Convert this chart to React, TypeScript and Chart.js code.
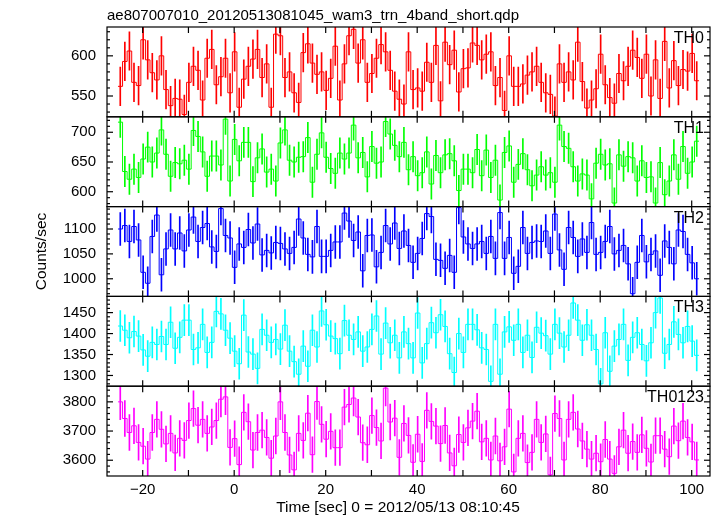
import React, { useEffect, useRef } from 'react';
import { Chart, registerables } from 'chart.js';
Chart.register(...registerables);

// ---- data (1 s bins) ----
const binStart = -25.4;
const binWidth = 1;

const th0 = [
  562, 593, 606, 567, 563, 620, 595, 579, 570, 600,
  558, 538, 547, 546, 527, 567, 587, 582, 545, 597,
  608, 564, 574, 597, 554, 605, 536, 571, 587, 596,
  608, 573, 590, 536, 627, 625, 573, 580, 554, 542,
  604, 615, 591, 577, 580, 557, 572, 612, 545, 590,
  625, 633, 591, 620, 567, 578, 597, 614, 605, 582,
  556, 546, 540, 605, 558, 560, 556, 592, 567, 613,
  544, 617, 589, 607, 555, 584, 585, 616, 613, 595,
  602, 605, 563, 573, 532, 600, 562, 562, 565, 576,
  580, 587, 567, 554, 552, 525, 590, 567, 580, 570,
  617, 568, 535, 545, 559, 602, 564, 548, 541, 578,
  569, 587, 607, 598, 572, 602, 550, 595, 547, 618,
  560, 594, 563, 583, 581, 603, 569,
];
const th1 = [
  717, 634, 621, 638, 624, 655, 675, 650, 665, 704,
  663, 626, 649, 647, 653, 638, 703, 693, 667, 626,
  660, 660, 645, 722, 618, 688, 652, 683, 683, 617,
  657, 672, 633, 638, 618, 682, 704, 653, 650, 658,
  659, 691, 616, 663, 699, 658, 639, 631, 665, 655,
  665, 712, 657, 666, 625, 676, 648, 650, 718, 697,
  678, 659, 683, 637, 659, 627, 632, 667, 613, 661,
  632, 662, 664, 652, 602, 638, 638, 632, 671, 627,
  670, 624, 653, 586, 666, 677, 616, 646, 664, 637,
  610, 628, 642, 628, 632, 616, 712, 676, 673, 642,
  618, 630, 628, 588, 648, 663, 645, 647, 581, 662,
  643, 659, 657, 618, 652, 624, 625, 581, 649, 595,
  618, 662, 621, 676, 631, 650, 685,
];
const th2 = [
  1100, 1107, 1075, 1105, 1078, 1013, 991, 1085, 1128, 1008,
  1060, 1098, 1060, 1092, 1056, 1098, 1124, 1075, 1103, 1111,
  1064, 1055, 1141, 1087, 1082, 1023, 1070, 1063, 1099, 1072,
  1110, 1048, 1057, 1052, 1073, 1071, 1060, 1051, 1063, 1120,
  1082, 1049, 1044, 1105, 1045, 1045, 1057, 1074, 1074, 1132,
  1116, 1077, 1094, 1016, 1087, 1088, 1024, 1053, 1107, 1070,
  1112, 1061, 1096, 1067, 1033, 1051, 1081, 1131, 1125, 1039,
  1037, 1021, 1047, 1013, 1143, 1084, 1070, 1061, 1070, 1075,
  1051, 1085, 1041, 1133, 1041, 1083, 1011, 1025, 1103, 1051,
  1073, 1076, 1075, 1096, 1051, 1130, 1058, 1019, 1103, 1083,
  1045, 1080, 1053, 1113, 1049, 1053, 1075, 1105, 1050, 1057,
  1067, 1030, 970, 1033, 1087, 1034, 1049, 1056, 1007, 1076,
  1063, 1030, 1098, 1095, 1049, 1032, 1000,
];
const th3 = [
  1418, 1408, 1390, 1405, 1394, 1361, 1346, 1379, 1374, 1393,
  1374, 1427, 1365, 1391, 1432, 1432, 1362, 1366, 1422, 1355,
  1379, 1453, 1447, 1408, 1389, 1358, 1328, 1444, 1356, 1351,
  1317, 1410, 1396, 1379, 1386, 1363, 1420, 1358, 1333, 1303,
  1370, 1322, 1408, 1368, 1454, 1421, 1394, 1388, 1352, 1431,
  1396, 1386, 1404, 1358, 1368, 1410, 1442, 1351, 1425, 1378,
  1396, 1342, 1404, 1376, 1342, 1449, 1330, 1376, 1426, 1402,
  1445, 1417, 1352, 1307, 1400, 1355, 1422, 1422, 1409, 1366,
  1362, 1286, 1422, 1303, 1404, 1416, 1384, 1422, 1355, 1396,
  1343, 1415, 1401, 1395, 1351, 1422, 1401, 1368, 1396, 1473,
  1432, 1384, 1421, 1396, 1362, 1280, 1402, 1310, 1370, 1386,
  1422, 1336, 1391, 1402, 1374, 1335, 1378, 1450, 1485, 1353,
  1374, 1428, 1398, 1378, 1417, 1382, 1348,
];
const th0123 = [
  3800, 3743, 3695, 3718, 3661, 3648, 3604, 3695, 3740, 3706,
  3656, 3692, 3625, 3675, 3668, 3736, 3777, 3720, 3740, 3692,
  3714, 3736, 3809, 3817, 3644, 3674, 3585, 3764, 3732, 3635,
  3695, 3703, 3678, 3607, 3683, 3800, 3695, 3618, 3567, 3692,
  3668, 3761, 3619, 3801, 3723, 3672, 3699, 3643, 3643, 3782,
  3791, 3813, 3748, 3660, 3653, 3753, 3712, 3666, 3847, 3731,
  3744, 3610, 3726, 3685, 3593, 3689, 3596, 3771, 3733, 3717,
  3657, 3719, 3625, 3581, 3688, 3661, 3711, 3734, 3768, 3663,
  3675, 3601, 3683, 3598, 3646, 3775, 3560, 3675, 3692, 3592,
  3627, 3740, 3661, 3690, 3550, 3760, 3743, 3601, 3740, 3764,
  3707, 3666, 3638, 3604, 3624, 3595, 3671, 3604, 3555, 3646,
  3703, 3624, 3664, 3627, 3687, 3641, 3594, 3684, 3684, 3638,
  3612, 3717, 3667, 3734, 3678, 3663, 3601,
];

// 1-sigma errors per band
const th0Err = 24;
const th1Err = 25.5;
const th2Err = 33;
const th3Err = 37;
const th0123Err = 61;

const panelNames = ['TH0', 'TH1', 'TH2', 'TH3', 'TH0123'];
const panelValues = [th0, th1, th2, th3, th0123];
const panelErrors = [th0Err, th1Err, th2Err, th3Err, th0123Err];
const panelColors = ['#ff0000', '#00ff00', '#0000ff', '#00ffff', '#ff00ff'];
const yMins = [524.1, 575, 964.6, 1274.4, 3546];
const yMaxs = [635.9, 726, 1145, 1488.7, 3853.6];
const yLabelSteps = [50, 50, 50, 50, 100];
const yMinorSteps = [10, 10, 10, 10, 20];

const xMin = -27.8;
const xMax = 104.0;
const xTickLabels = [-20, 0, 20, 40, 60, 80, 100];
const xMarkStep = 10;

const titleText = 'ae807007010_20120513081045_wam3_trn_4band_short.qdp';
const xTitle = 'Time [sec] 0 = 2012/05/13 08:10:45';
const yTitle = 'Counts/sec';

const FONT = '"Liberation Sans", Arial, Helvetica, sans-serif';

const isMultiple = (v: number, step: number) =>
  Math.abs(v / step - Math.round(v / step)) < 1e-6;

const framePlugin = {
  id: 'qdpFrames',
  afterDraw(chart: any) {
    const ctx = chart.ctx as CanvasRenderingContext2D;
    const area = chart.chartArea;
    const xs = chart.scales.x;
    ctx.save();
    ctx.strokeStyle = '#000';
    ctx.lineWidth = 1.2;
    const seg = (x1: number, y1: number, x2: number, y2: number) => {
      ctx.beginPath();
      ctx.moveTo(x1, y1);
      ctx.lineTo(x2, y2);
      ctx.stroke();
    };
    panelNames.forEach((name, k) => {
      const ys = chart.scales['y' + k];
      const top = ys.top;
      const bottom = ys.bottom;
      ctx.strokeRect(area.left, top, area.right - area.left, bottom - top);
      const minor = yMinorSteps[k];
      for (let v = Math.ceil(ys.min / minor) * minor; v <= ys.max + 1e-9; v += minor) {
        const p = ys.getPixelForValue(v);
        const len = isMultiple(v, yLabelSteps[k]) ? 6 : 3;
        seg(area.left, p, area.left + len, p);
        seg(area.right, p, area.right - len, p);
      }
      for (let v = Math.ceil(xs.min / xMarkStep) * xMarkStep; v <= xs.max + 1e-9; v += xMarkStep) {
        const p = xs.getPixelForValue(v);
        seg(p, top, p, top + 6);
        seg(p, bottom, p, bottom - 6);
      }
      ctx.fillStyle = '#000';
      ctx.font = `16px ${FONT}`;
      ctx.textAlign = 'right';
      ctx.textBaseline = 'alphabetic';
      ctx.fillText(name, area.right - 6, top + 16);
    });
    ctx.fillStyle = '#000';
    ctx.font = `15px ${FONT}`;
    ctx.textAlign = 'left';
    ctx.textBaseline = 'alphabetic';
    ctx.fillText(titleText, area.left, 20);
    ctx.font = `15.5px ${FONT}`;
    ctx.textAlign = 'center';
    ctx.fillText(xTitle, 398, 512);
    ctx.save();
    ctx.translate(46, (area.top + area.bottom) / 2);
    ctx.rotate(-Math.PI / 2);
    ctx.textAlign = 'center';
    ctx.fillText(yTitle, 0, 0);
    ctx.restore();
    ctx.restore();
  },
};

export default function App() {
  const canvasRef = useRef<HTMLCanvasElement | null>(null);

  useEffect(() => {
    document.body.style.margin = '0';
    const canvas = canvasRef.current;
    if (!canvas) return;

    const datasets: any[] = [];
    panelValues.forEach((vals, k) => {
      const n = vals.length;
      const stepPts = vals.map((v, i) => ({ x: binStart + i * binWidth, y: v }));
      stepPts.push({ x: binStart + n * binWidth, y: vals[n - 1] });
      datasets.push({
        type: 'line',
        label: panelNames[k],
        data: stepPts,
        xAxisID: 'x',
        yAxisID: 'y' + k,
        stepped: true,
        borderColor: panelColors[k],
        borderWidth: 1,
        pointRadius: 0,
        fill: false,
        tension: 0,
        order: 0,
      });
      datasets.push({
        type: 'bar',
        label: panelNames[k] + ' err',
        data: vals.map((v, i) => ({
          x: binStart + (i + 0.5) * binWidth,
          y: [v - panelErrors[k], v + panelErrors[k]],
        })),
        xAxisID: 'x',
        yAxisID: 'y' + k,
        backgroundColor: panelColors[k],
        borderWidth: 0,
        barThickness: 1,
        grouped: false,
        order: 1,
      });
    });

    const scales: any = {
      x: {
        type: 'linear',
        position: 'bottom',
        min: xMin,
        max: xMax,
        offset: false,
        grid: { display: false, drawTicks: false, offset: false },
        border: { display: false },
        afterBuildTicks: (s: any) => {
          s.ticks = xTickLabels.map((v) => ({ value: v }));
        },
        ticks: {
          autoSkip: false,
          maxRotation: 0,
          padding: 5,
          color: '#000',
          font: { family: FONT, size: 15 },
          callback: (v: number) => (v < 0 ? '\u2212' + Math.abs(v) : String(v)),
        },
        afterFit: (s: any) => {
          s.height = 40;
        },
      },
    };
    panelNames.forEach((_, k) => {
      const step = yLabelSteps[k];
      const labelVals: number[] = [];
      for (let v = Math.ceil(yMins[k] / step) * step; v <= yMaxs[k]; v += step) labelVals.push(v);
      scales['y' + k] = {
        type: 'linear',
        position: 'left',
        stack: 'panels',
        stackWeight: 1,
        weight: 10 - k,
        offset: false,
        min: yMins[k],
        max: yMaxs[k],
        grid: { display: false, drawTicks: false },
        border: { display: false },
        afterBuildTicks: (s: any) => {
          s.ticks = labelVals.map((v) => ({ value: v }));
        },
        ticks: {
          autoSkip: false,
          padding: 11,
          color: '#000',
          font: { family: FONT, size: 15 },
          callback: (v: number) => String(v),
        },
        afterFit: (s: any) => {
          s.width = 107;
        },
      };
    });

    const chart = new Chart(canvas, {
      type: 'line',
      data: { datasets },
      options: {
        animation: false,
        responsive: false,
        devicePixelRatio: 1,
        layout: { padding: { left: 0, right: 7, top: 27, bottom: 0 } },
        plugins: {
          legend: { display: false },
          tooltip: { enabled: false },
          title: { display: false },
        },
        scales,
      },
      plugins: [framePlugin],
    } as any);

    return () => {
      chart.destroy();
    };
  }, []);

  return (
    <div style={{ width: 717, height: 516, background: '#fff' }}>
      <canvas ref={canvasRef} width={717} height={516} />
    </div>
  );
}
